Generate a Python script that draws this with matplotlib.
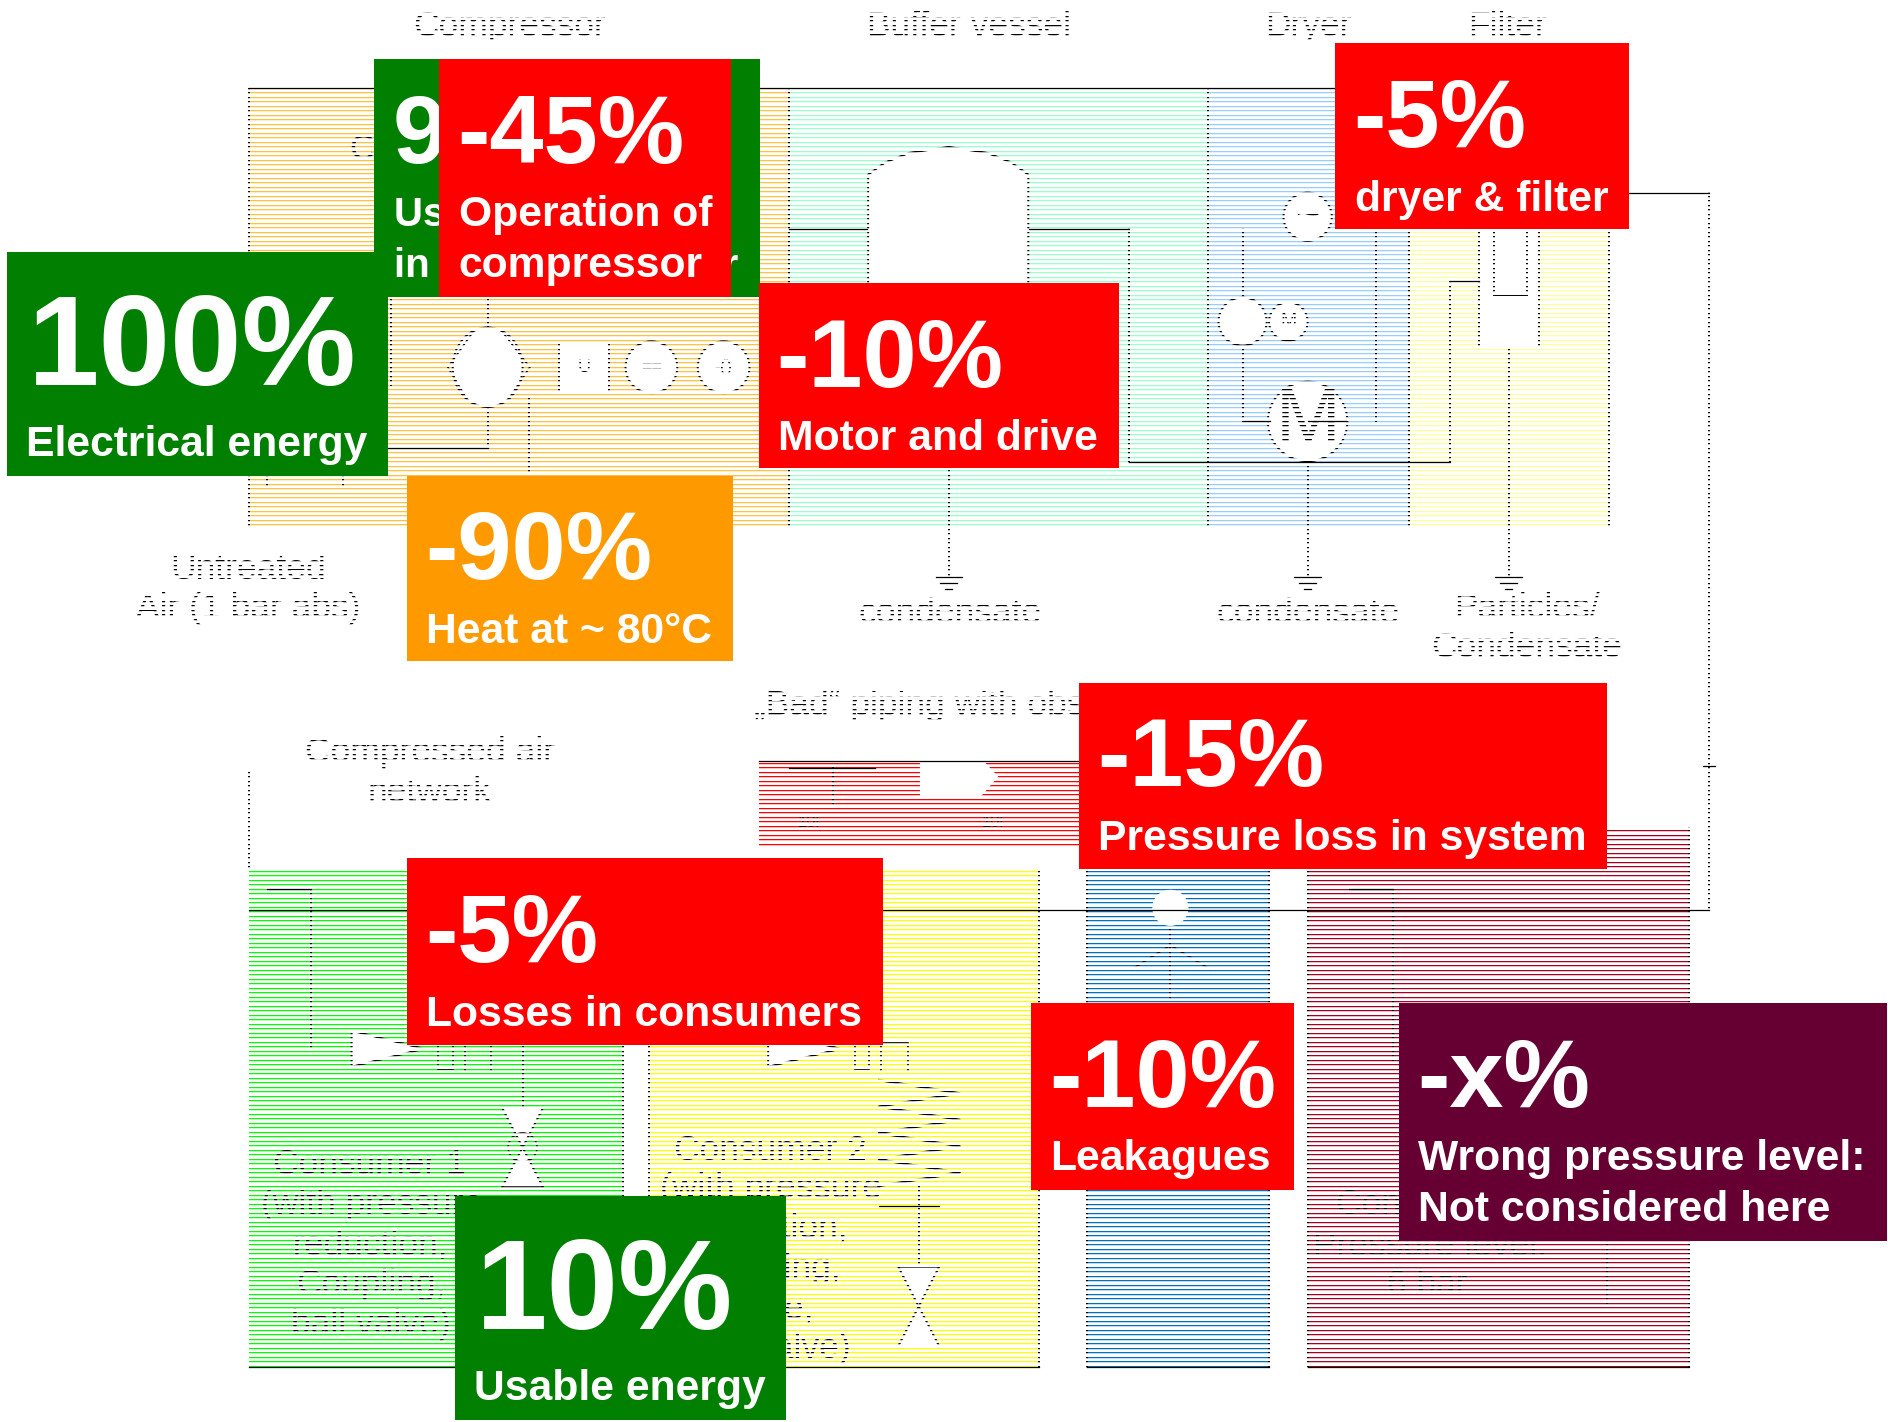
import numpy as np
import matplotlib
matplotlib.use("Agg")
import matplotlib.pyplot as plt
from matplotlib.patches import Rectangle, Ellipse, Polygon

plt.rcParams['font.family'] = ['Liberation Sans', 'DejaVu Sans']

# shaded plant sections: x0, y0, x1, y1, colour
section_names = ["compressor", "buffer", "dryer", "filter", "piping", "consumer1", "consumer2", "leak", "consumer3"]
section_x0 = [207, 655, 1003, 1170, 630, 207, 539, 903, 1086]
section_y0 = [73, 73, 73, 73, 632, 722, 722, 722, 688]
section_x1 = [655, 1003, 1170, 1336, 900, 517, 863, 1054, 1403]
section_y1 = [438, 438, 438, 438, 703, 1135, 1135, 1135, 1135]
section_colors = ["#FFC240", "#99FFCC", "#99CCFF", "#FFFF99", "#FF0000", "#00FF00", "#FFFF00", "#0070C0", "#A50021"]

# pipes
solid_x0 = [207, 1353, 630, 207, 938, 207, 539, 903, 1086, 655, 855, 1204, 322, 1032, 1086, 1414, 655, 222, 1120, 730]
solid_x1 = [1110, 1419, 900, 1419, 1204, 517, 863, 1054, 1403, 720, 938, 1228, 405, 1055, 1118, 1424, 727, 258, 1157, 780]
solid_y = [73, 160, 632, 756, 384, 1135, 1135, 1135, 1135, 190, 190, 233, 372, 350, 350, 636, 638, 738, 738, 1002]
vert_x = [207, 207, 655, 1003, 1170, 1336, 1419, 938, 1204, 788, 1086, 1253, 1032, 1143, 405, 405, 439, 517, 539, 863, 903, 1054, 1086, 1403, 258, 692, 1157, 1335, 325, 434, 763, 763, 972, 222, 285]
vert_y0 = [73, 642, 73, 73, 73, 73, 160, 190, 233, 389, 384, 289, 190, 190, 247, 338, 330, 722, 722, 722, 722, 722, 722, 688, 738, 638, 738, 1000, 247, 868, 985, 1002, 770, 395, 395]
vert_y1 = [438, 722, 438, 438, 438, 438, 756, 384, 384, 479, 479, 479, 350, 350, 275, 372, 392, 1135, 1135, 1135, 1135, 1135, 1135, 1135, 870, 668, 880, 1082, 320, 920, 1002, 1050, 830, 403, 403]
ground_x = [788, 1086, 1253]
ground_y = [479, 484, 489]
ground_half = [11, 7, 3]

# labels under the overlay
label_text = ["Compressor", "Buffer vessel", "Dryer", "Filter", "Untreated", "Air (1 bar abs)", "condensate", "condensate",
              "Particles/", "Condensate", "Compressed air", "network", "Consumer 1", "(with pressure", "reduction,",
              "Coupling,", "ball valve)", "Consumer 2", "(with pressure", "reduction,", "coupling,", "hose,", "ball valve)",
              "Consumer 3", "Pressure level:", "6 bar", "Cooling"]
label_x = [423, 805, 1087, 1252, 206, 206, 789, 1086, 1268, 1268, 357, 357, 307, 309, 308, 308, 308, 640, 640, 640, 640, 640, 640, 1190, 1188, 1185, 340]
label_y = [30, 30, 30, 30, 481, 513, 517, 517, 513, 546, 633, 666, 975, 1008, 1042, 1075, 1108, 963, 995, 1028, 1061, 1095, 1128, 1008, 1043, 1075, 132]
small_text = ["U", "==", "-()", "M", "~", "M", "10l", "10l"]
small_x = [485, 541, 601, 1070, 1086, 1086, 672, 825]
small_y = [305, 305, 305, 267, 180, 350, 683, 683]
small_size = [13, 13, 13, 14, 30, 56, 12, 12]

# overlay boxes, drawn in this order
box_x0 = [311, 365, 6, 338, 630, 1109, 896, 338, 856, 1162, 378]
box_y0 = [49, 49, 209, 395, 235, 36, 567, 713, 833, 833, 993]
box_x1 = [631, 607, 322, 609, 929, 1353, 1335, 733, 1075, 1567, 653]
box_y1 = [247, 247, 395, 549, 389, 190, 722, 868, 988, 1031, 1179]
box_colors = ["#007F00", "#FF0000", "#007F00", "#FF9900", "#FF0000", "#FF0000", "#FF0000", "#FF0000", "#FF0000", "#660033", "#007F00"]
box_big = ["90%", "-45%", "100%", "-90%", "-10%", "-5%", "-15%", "-5%", "-10%", "-x%", "10%"]
box_sub = [["Usable energy", "in compressed air"], ["Operation of", "compressor"], ["Electrical energy"], ["Heat at ~ 80°C"],
           ["Motor and drive"], ["dryer & filter"], ["Pressure loss in system"], ["Losses in consumers"], ["Leakagues"],
           ["Wrong pressure level:", "Not considered here"], ["Usable energy"]]
box_sub_size = [29, 30.7, 30.7, 30.7, 30.7, 30.7, 30.7, 30.7, 30.7, 30.7, 30.7]

fig = plt.figure(figsize=(18.88, 14.22), dpi=100)
ax = fig.add_axes([0, 0, 1, 1])
ax.axis("off")

for x0, y0, x1, y1, c in zip(section_x0, section_y0, section_x1, section_y1, section_colors):
    ax.add_patch(Rectangle((x0, y0), x1 - x0, y1 - y0, fc=c, ec="none", zorder=1))

for x, y0, y1 in zip(vert_x, vert_y0, vert_y1):
    ax.plot([x, x], [y0, y1], color="black", lw=1.4, zorder=2)

# vessel, compressor and other symbols
ink = dict(fc="white", ec="black", lw=1.4, zorder=3)
ax.add_patch(Polygon([(721, 386), (721, 145), (735, 135), (755, 127), (788, 122), (820, 127), (840, 135), (854, 145), (854, 386)], **ink))
ax.add_patch(Rectangle((1228, 190), 50, 99, **ink))
ax.add_patch(Rectangle((1241, 190), 27, 55, **ink))
ax.add_patch(Ellipse((405, 305), 58, 66, **ink))
ax.plot([394, 372, 388], [274, 305, 332], color="black", lw=1.2, zorder=3)
ax.plot([416, 440, 422], [274, 305, 332], color="black", lw=1.2, zorder=3)
ax.add_patch(Rectangle((464, 285), 42, 41, **ink))
ax.add_patch(Ellipse((541, 305), 43, 43, **ink))
ax.add_patch(Ellipse((601, 305), 43, 43, **ink))
ax.add_patch(Ellipse((1086, 350), 66, 66, **ink))
ax.add_patch(Ellipse((1086, 180), 40, 40, **ink))
ax.add_patch(Ellipse((1032, 267), 40, 40, **ink))
ax.add_patch(Ellipse((1070, 267), 32, 32, **ink))
ax.add_patch(Ellipse((972, 754), 30, 30, fc="white", ec="none", zorder=3))
ax.add_patch(Polygon([(764, 630), (815, 630), (829, 645), (815, 661), (764, 661)], fc="white", ec="none", zorder=3))
for lx in [940, 1005]:
    ax.plot([972, lx], [785, 805], color="black", lw=1.2, zorder=3)

# valves
for vx, vy in [(434, 953), (763, 1085)]:
    ax.add_patch(Polygon([(vx - 17, vy - 33), (vx + 17, vy - 33), (vx - 17, vy + 33), (vx + 17, vy + 33)], **ink))
ax.add_patch(Ellipse((434, 953), 24, 24, fc="none", ec="black", lw=1.2, zorder=3))

# filter regulators in front of both consumers
for fx in [288, 634]:
    ax.add_patch(Polygon([(fx + 4, 856), (fx + 4, 886), (fx + 64, 871)], **ink))
    ax.add_patch(Rectangle((fx + 76, 868), 12, 20, fc="none", ec="black", lw=1.2, zorder=3))
    ax.add_patch(Rectangle((fx + 98, 866), 22, 24, fc="none", ec="black", lw=1.2, zorder=3))

# spring coil of consumer 2
coil_x = [730, 797, 730, 797, 730, 797, 730, 797, 730]
coil_y = [897, 908, 919, 930, 941, 952, 963, 974, 985]
ax.plot(coil_x, coil_y, color="black", lw=1.6, zorder=3)

for x, y, s in zip(label_x, label_y, label_text):
    ax.text(x, y, s, ha="center", va="baseline", fontsize=25.5, color="black", zorder=4)
ax.text(626, 594, "„Bad“ piping with obstacles", ha="left", va="baseline", fontsize=25.5, color="black", zorder=4)
for x, y, s, fs in zip(small_x, small_y, small_text, small_size):
    ax.text(x, y, s, ha="center", va="center", fontsize=fs, color="black", zorder=4)

# white mask with thin slits every 4.5 px, one row per output pixel
mask = np.ones((1422, 1888, 4))
slits = (2.8 + 4.5 * np.arange(0, 316)).astype(int)
mask[np.clip(slits + 1, 0, 1421), :, 3] = 0.75
mask[slits, :, 3] = 0
ax.imshow(mask, extent=(0, 1568, 1181, 0), interpolation="nearest", aspect="auto", zorder=5)
ax.set_xlim(0, 1568)
ax.set_ylim(1181, 0)

for x0, x1, y in zip(solid_x0, solid_x1, solid_y):
    ax.plot([x0, x1], [y, y], color="black", lw=0.9, zorder=6)
for gx in ground_x:
    for gy, half in zip(ground_y, ground_half):
        ax.plot([gx - half, gx + half], [gy, gy], color="black", lw=0.9, zorder=6)

for i in range(len(box_big)):
    x0, y0 = box_x0[i], box_y0[i]
    w, h = box_x1[i] - x0, box_y1[i] - y0
    ax.add_patch(Rectangle((x0, y0), w, h, fc=box_colors[i], ec="none", zorder=10 + i))
    large = box_big[i] in ("100%", "10%")
    ax.text(x0 + (17 if large else 15), y0 + (111 if large else 86), box_big[i], color="white", fontweight="bold",
            fontsize=92.5 if large else 70, ha="left", va="baseline", zorder=10 + i)
    base = 170 if large else 139
    for j, line in enumerate(box_sub[i]):
        ax.text(x0 + 16, y0 + base + 42 * j, line, color="white", fontweight="bold",
                fontsize=box_sub_size[i], ha="left", va="baseline", zorder=10 + i)

fig.savefig("out.png", dpi=100, facecolor="white")
